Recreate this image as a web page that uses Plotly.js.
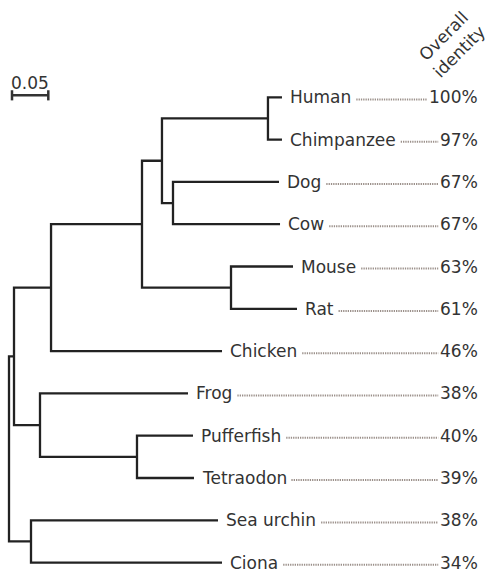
<!DOCTYPE html>
<html>
<head>
<meta charset="utf-8">
<script src="https://cdn.plot.ly/plotly-3.0.1.min.js"></script>
<style>html,body{margin:0;padding:0;background:#fff;}#chart{width:489px;height:569px;}</style>
</head>
<body>
<div id="chart"></div>
<script>
// ---- data ----
const leafNames = ['Human','Chimpanzee','Dog','Cow','Mouse','Rat','Chicken','Frog','Pufferfish','Tetraodon','Sea urchin','Ciona'];
const identityPct = [100, 97, 67, 67, 63, 61, 46, 38, 40, 39, 38, 34];
const identityLabels = ['100%','97%','67%','67%','63%','61%','46%','38%','40%','39%','38%','34%'];
const nodeIds      = ['root','Vertebrata','Invertebrates','Amniota','FrogFish','Mammals','Boreo','Primates','Laurasia','Rodents','Fish',
                      'Human','Chimpanzee','Dog','Cow','Mouse','Rat','Chicken','Frog','Pufferfish','Tetraodon','Sea urchin','Ciona'];
const nodeParents  = ['',    'root',      'root',         'Vertebrata','Vertebrata','Amniota','Mammals','Boreo','Boreo','Mammals','FrogFish',
                      'Primates','Primates','Laurasia','Laurasia','Rodents','Rodents','Amniota','FrogFish','Fish','Fish','Invertebrates','Invertebrates'];
const branchLengths= [0,     0.0069,      0.0303,         0.0510,   0.0358,    0.1253,   0.0275,  0.1460,    0.0152,    0.1226,   0.1336,
                      0.0193, 0.0193, 0.1460, 0.1474, 0.0854, 0.0909, 0.2355, 0.2039, 0.0771, 0.0785, 0.2576, 0.2631];
const scaleBarLength = 0.05;
const scaleBarLabel = '0.05';
const headerText = 'Overall<br>identity';

// ---- build tree geometry ----
const children = {}, depth = {}, yPos = {};
nodeIds.forEach((id, i) => { if (nodeParents[i]) (children[nodeParents[i]] = children[nodeParents[i]] || []).push(id); });
const blen = {}; nodeIds.forEach((id, i) => blen[id] = branchLengths[i]);
function setDepth(id, d) { depth[id] = d + blen[id]; (children[id] || []).forEach(c => setDepth(c, depth[id])); }
setDepth('root', 0);
function setY(id) {
  if (!children[id]) { yPos[id] = leafNames.indexOf(id); return yPos[id]; }
  const ys = children[id].map(setY);
  yPos[id] = (Math.min(...ys) + Math.max(...ys)) / 2;
  return yPos[id];
}
setY('root');

const lx = [], ly = [];
nodeIds.forEach(id => {
  const ch = children[id];
  if (!ch) return;
  const a = ch[0], b = ch[ch.length - 1];
  lx.push(depth[a], depth[id], depth[id], depth[b], null);
  ly.push(yPos[a], yPos[a], yPos[b], yPos[b], null);
});

// ---- axes mapping ----
const W = 489, H = 569;
const pxPerUnit = 726, x0px = 9;
const yTopPx = 97.3, yStep = 42.3;
const xRange = [-x0px / pxPerUnit, (W - x0px) / pxPerUnit];
const yRange = [(H - yTopPx) / yStep, -yTopPx / yStep];

const FONT = 'DejaVu Sans';
const FS = 17;
const textColor = '#333333';
const cv = document.createElement('canvas').getContext('2d');
cv.font = FS + 'px "' + FONT + '"';
const tw = s => cv.measureText(s).width;

const labelGap = 7;      // px between tip and name
const pctRightPx = 479;  // right edge of percentages
const annotations = [];
const shapes = [];
leafNames.forEach((name, i) => {
  const tip = depth[name];
  annotations.push({x: tip, y: i, xref: 'x', yref: 'y', text: name, showarrow: false,
    xanchor: 'left', yanchor: 'middle', xshift: labelGap, borderpad: 0,
    font: {family: FONT, size: FS, color: textColor}});
  annotations.push({x: pctRightPx / W, y: i, xref: 'paper', yref: 'y', text: identityLabels[i], showarrow: false,
    xanchor: 'right', yanchor: 'middle', borderpad: 0,
    font: {family: FONT, size: FS, color: textColor}});
  const startPx = x0px + tip * pxPerUnit + labelGap + tw(name) + 6;
  const endPx = pctRightPx - tw(identityLabels[i]) - 3;
  shapes.push({type: 'line', xref: 'x', yref: 'y',
    x0: (startPx - x0px) / pxPerUnit, x1: (endPx - x0px) / pxPerUnit, y0: i + 0.05, y1: i + 0.05,
    line: {color: '#9b908a', width: 2, dash: '1.3px,1px'}});
});

// scale bar
const sbX0 = 3 / pxPerUnit, sbY = -0.047, sbTick = 0.12;
const sbx = [sbX0, sbX0 + scaleBarLength, null, sbX0, sbX0, null, sbX0 + scaleBarLength, sbX0 + scaleBarLength];
const sby = [sbY, sbY, null, sbY - sbTick, sbY + sbTick, null, sbY - sbTick, sbY + sbTick];
annotations.push({x: sbX0 + scaleBarLength / 2, y: sbY, xref: 'x', yref: 'y', yshift: 12, text: scaleBarLabel,
  showarrow: false, xanchor: 'center', yanchor: 'middle', borderpad: 0,
  font: {family: FONT, size: FS, color: textColor}});

annotations.push({x: 451 / W, y: 1 - 44 / H, xref: 'paper', yref: 'paper', text: headerText, textangle: -45,
  showarrow: false, xanchor: 'center', yanchor: 'middle', borderpad: 0,
  font: {family: FONT, size: FS, color: textColor}});

const traces = [
  {x: lx, y: ly, type: 'scatter', mode: 'lines', line: {color: '#222222', width: 2.3}, hoverinfo: 'skip', connectgaps: false},
  {x: sbx, y: sby, type: 'scatter', mode: 'lines', line: {color: '#333333', width: 2.5}, hoverinfo: 'skip', connectgaps: false}
];

const layout = {
  width: W, height: H,
  margin: {l: 0, r: 0, t: 0, b: 0},
  paper_bgcolor: '#ffffff', plot_bgcolor: '#ffffff',
  showlegend: false,
  xaxis: {range: xRange, visible: false, fixedrange: true},
  yaxis: {range: yRange, visible: false, fixedrange: true},
  annotations: annotations,
  shapes: shapes
};
Plotly.newPlot('chart', traces, layout, {staticPlot: true, displayModeBar: false});
</script>
</body>
</html>
